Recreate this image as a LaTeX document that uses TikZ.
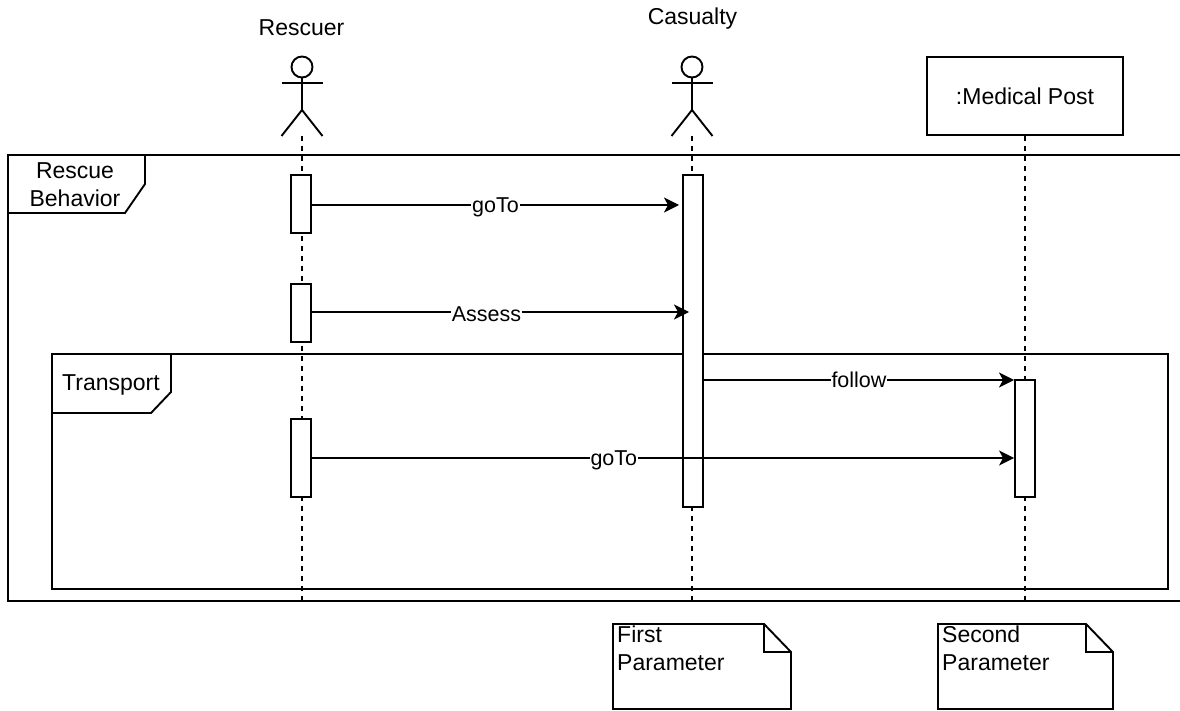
\documentclass[tikz,border=0pt]{standalone}
\usepackage{fontspec}
\setmainfont{Liberation Sans}
\usetikzlibrary{arrows.meta,shapes.misc}
\tikzset{
  line/.style={line width=1.9pt},
  lifeline/.style={line, dash pattern=on 5pt off 5pt},
  bar/.style={line, draw, fill=white, minimum width=20pt, inner sep=0pt},
  msg/.style={line, -{Stealth[length=15pt,width=15pt,inset=4pt]}},
  msglabel/.style={fill=white, inner sep=1pt, yshift=-2pt, font=\fontsize{21.5}{24}\selectfont},
  txt/.style={font=\fontsize{23}{28}\selectfont, inner sep=0pt, align=center},
  notetxt/.style={txt, align=left, anchor=north west},
  head/.style={line, draw, circle, minimum size=21pt, inner sep=0pt}
}
\begin{document}
\begin{tikzpicture}[x=1pt, y=-1pt]
\useasboundingbox (0,0) rectangle (1180,711);

% actors
\node[txt] (rescuerLabel) at (301.5,28) {Rescuer};
\node[txt] (casualtyLabel) at (692.5,19) {Casualty};
\foreach \name/\xpos in {rescuer/302, casualty/692} {
  \node[head] (\name Head) at (\xpos,67) {};
  \coordinate (\name Hip) at (\xpos,110);
  \coordinate (\name ArmL) at (\xpos-20.5,83);
  \coordinate (\name ArmR) at (\xpos+20.5,83);
  \coordinate (\name LegL) at (\xpos-20.5,136);
  \coordinate (\name LegR) at (\xpos+20.5,136);
  \coordinate (\name Top) at (\xpos,136);
  \coordinate (\name End) at (\xpos,601);
  \draw[line] (\name Head) -- (\name Hip);
  \draw[line] (\name ArmL) -- (\name ArmR);
  \draw[line] (\name LegL) -- (\name Hip) -- (\name LegR);
  \draw[lifeline] (\name Top) -- (\name End);
}

\node[line, draw, fill=white, minimum width=196pt, minimum height=78pt, txt] (post) at (1025,96) {:Medical Post};
\coordinate (postEnd) at (1025,601);
\draw[lifeline] (post) -- (postEnd);

% frames
\draw[line] (1180,155) -- (8,155) -- (8,601) -- (1180,601);
\draw[line] (145,155) -- (145,184) -- (125,213) -- (8,213);
\node[txt] (rescueLabel) at (75,185) {Rescue\\Behavior};

\draw[line] (52,354) rectangle (1168,589);
\draw[line] (171,354) -- (171,392) -- (151,413) -- (52,413);
\node[txt] (transportLabel) at (111,385) {Transport};

% activation bars
\node[bar, minimum height=58pt] (barA) at (301,204) {};
\node[bar, minimum height=58pt] (barB) at (301,313) {};
\node[bar, minimum height=78pt] (barC) at (301,458) {};
\node[bar, minimum height=332pt] (barCas) at (693,341) {};
\node[bar, minimum height=117pt] (barPost) at (1025,438.5) {};

% messages
\coordinate (goToEnd) at (679,205);
\coordinate (assessEnd) at (689,312);
\coordinate (followEnd) at (1014,380);
\draw[msg] (barA.east |- goToEnd) -- node[msglabel] {goTo} (goToEnd);
\draw[msg] (barB.east |- assessEnd) -- node[msglabel, pos=0.463] {Assess} (assessEnd);
\draw[msg] (barCas.east |- followEnd) -- node[msglabel, yshift=2pt] {follow} (followEnd);
\draw[msg] (barC.east) -- node[msglabel, pos=0.43] {goTo} (barPost.west |- barC.east);

% notes
\draw[line] (613,709) -- (613,624) -- (764,624) -- (791,652) -- (791,709) -- cycle;
\draw[line] (764,624) -- (764,652) -- (791,652);
\node[notetxt] (firstNote) at (617,626) {First\\Parameter};
\draw[line] (938,709) -- (938,624) -- (1086,624) -- (1113,652) -- (1113,709) -- cycle;
\draw[line] (1086,624) -- (1086,652) -- (1113,652);
\node[notetxt] (secondNote) at (942,626) {Second\\Parameter};

\end{tikzpicture}
\end{document}
